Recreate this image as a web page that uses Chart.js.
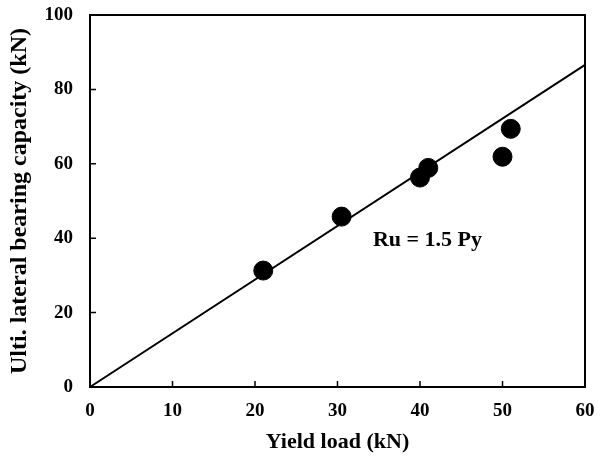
<!DOCTYPE html>
<html>
<head>
<meta charset="utf-8">
<script src="https://cdn.jsdelivr.net/npm/chart.js@4.4.1/dist/chart.umd.min.js"></script>
<style>
  html, body { margin: 0; padding: 0; background: #fff; }
  #wrap { width: 606px; height: 459px; position: relative; }
</style>
</head>
<body>
<div id="wrap"><canvas id="chart"></canvas></div>
<script>
// measured points (yield load vs ultimate lateral capacity)
const yieldLoad = [21, 30.5, 40, 41, 50, 51];
const ultCapacity = [31.3, 45.8, 56.3, 58.9, 61.9, 69.4];
// fitted line as drawn in the figure
const fitX = [0, 60];
const fitY = [0, 86.6];
const xTicks = [0, 10, 20, 30, 40, 50, 60];
const yTicks = [0, 20, 40, 60, 80, 100];
const fitLabel = "Ru = 1.5 Py";
const fitLabelAt = [40.9, 39.5];

const serif = "'Liberation Serif', 'Times New Roman', serif";

const frame = {
  id: "frame",
  afterDraw(chart) {
    const { ctx, chartArea: a, scales } = chart;
    ctx.save();
    ctx.strokeStyle = "#000";
    ctx.lineWidth = 2;
    ctx.strokeRect(a.left, a.top, a.right - a.left, a.bottom - a.top);
    // inward tick marks
    ctx.lineWidth = 1.5;
    ctx.beginPath();
    xTicks.slice(1, -1).forEach(v => {
      const px = scales.x.getPixelForValue(v);
      ctx.moveTo(px, a.bottom); ctx.lineTo(px, a.bottom - 6);
    });
    yTicks.slice(1, -1).forEach(v => {
      const py = scales.y.getPixelForValue(v);
      ctx.moveTo(a.left, py); ctx.lineTo(a.left + 6, py);
    });
    ctx.stroke();
    ctx.fillStyle = "#000";
    ctx.font = "bold 22px " + serif;
    ctx.textAlign = "center";
    ctx.textBaseline = "middle";
    ctx.fillText(fitLabel, scales.x.getPixelForValue(fitLabelAt[0]), scales.y.getPixelForValue(fitLabelAt[1]));
    ctx.restore();
  }
};

new Chart(document.getElementById("chart"), {
  type: "scatter",
  data: {
    datasets: [
      {
        data: fitX.map((x, i) => ({ x, y: fitY[i] })),
        showLine: true,
        borderColor: "#000",
        borderWidth: 2,
        pointRadius: 0,
        clip: false,
      },
      {
        data: yieldLoad.map((x, i) => ({ x, y: ultCapacity[i] })),
        backgroundColor: "#000",
        borderColor: "#000",
        pointRadius: 9.5,
        pointHoverRadius: 9.5,
      }
    ]
  },
  options: {
    responsive: true,
    maintainAspectRatio: false,
    animation: false,
    layout: { padding: { top: 15, right: 21, left: 0, bottom: 0 } },
    plugins: { legend: { display: false }, tooltip: { enabled: false } },
    scales: {
      x: {
        min: 0, max: 60,
        afterBuildTicks: s => { s.ticks = xTicks.map(v => ({ value: v })); },
        afterFit: s => { s.height = 72; s.paddingLeft = 0; s.paddingRight = 0; },
        grid: { display: false, drawTicks: false },
        border: { display: false },
        ticks: { color: "#000", padding: 13, font: { family: serif, size: 19, weight: "bold" } },
        title: {
          display: true, text: "Yield load (kN)", color: "#000",
          padding: { top: 4, bottom: 3 },
          font: { family: serif, size: 22, weight: "bold" }
        }
      },
      y: {
        min: 0, max: 100,
        afterBuildTicks: s => { s.ticks = yTicks.map(v => ({ value: v })); },
        afterFit: s => { s.width = 90; s.paddingTop = 0; s.paddingBottom = 0; },
        grid: { display: false, drawTicks: false },
        border: { display: false },
        ticks: { color: "#000", padding: 17, font: { family: serif, size: 19, weight: "bold" } },
        title: {
          display: true, text: "Ulti. lateral bearing capacity (kN)", color: "#000",
          padding: { top: 5, bottom: 0 },
          font: { family: serif, size: 24, weight: "bold" }
        }
      }
    }
  },
  plugins: [frame]
});
</script>
</body>
</html>
